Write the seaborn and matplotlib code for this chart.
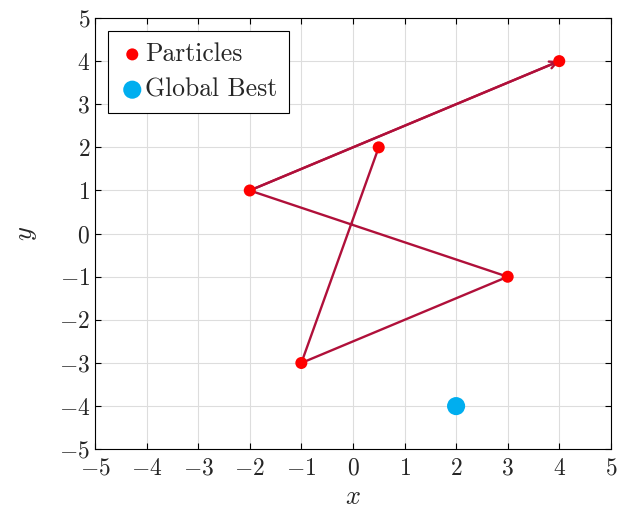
import matplotlib
matplotlib.use("Agg")
import matplotlib.pyplot as plt
import seaborn as sns
import pandas as pd

# particle positions, in path order
px = [0.5, -1, 3, -2, 4]
py = [2, -3, -1, 1, 4]
# global best
gx = [2]
gy = [-4]

sns.set_style("ticks")
plt.rcParams['font.family'] = ['cmr10', 'DejaVu Serif']
plt.rcParams['mathtext.fontset'] = 'cm'
plt.rcParams['axes.formatter.use_mathtext'] = True

df = pd.DataFrame({'x': px, 'y': py, 'step': range(len(px))})

fig = plt.figure(figsize=(6.17, 5.14), dpi=100)
ax = fig.add_axes([0.154, 0.126, 0.836, 0.839])

line_col = '#b0103a'
sns.lineplot(data=df, x='x', y='y', sort=False, color=line_col, lw=1.7, ax=ax, zorder=2)
ax.annotate('', xy=(px[-1], py[-1]), xytext=(px[-2], py[-2]),
            arrowprops=dict(arrowstyle='->', color=line_col, lw=1.7, shrinkA=0, shrinkB=0,
                            mutation_scale=13), zorder=2)
sns.scatterplot(x=px, y=py, color='#ff0000', s=75, edgecolor='none', ax=ax, zorder=3, label='Particles')
sns.scatterplot(x=gx, y=gy, color='#00aeef', s=170, edgecolor='none', ax=ax, zorder=3, label='Global Best')

ax.set_xlim(-5, 5)
ax.set_ylim(-5, 5)
ax.set_xticks(range(-5, 6))
ax.set_yticks(range(-5, 6))
ax.grid(True, color='#dddddd', lw=0.8)
ax.set_axisbelow(True)
ax.tick_params(direction='in', top=True, right=True, labelsize=17, length=4, color='black')
ax.tick_params(axis='x', pad=6)
for s in ax.spines.values():
    s.set_color('black')
    s.set_linewidth(0.8)
ax.set_xlabel('$x$', fontsize=19, labelpad=4)
ax.set_ylabel('$y$', fontsize=19, labelpad=14)

leg = ax.legend(loc='upper left', fontsize=18.5, frameon=True, fancybox=False,
                edgecolor='black', framealpha=1, handletextpad=0.0, borderpad=0.45,
                handlelength=1.0, borderaxespad=0.5, labelspacing=0.45)
leg.get_frame().set_linewidth(0.8)

fig.savefig('out.png', dpi=100)
